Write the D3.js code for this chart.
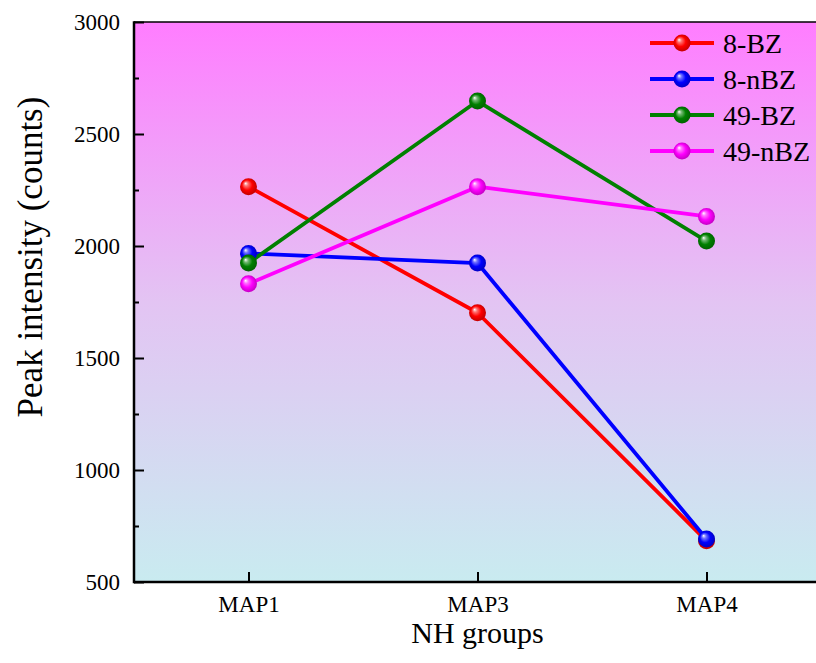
<!DOCTYPE html>
<html>
<head>
<meta charset="utf-8">
<script src="https://cdn.jsdelivr.net/npm/d3@7"></script>
<style>
  html, body { margin: 0; padding: 0; background: #fff; }
  svg { display: block; }
  svg text { font-family: "Liberation Serif", "Times New Roman", serif; }
</style>
</head>
<body>
<div id="chart"></div>
<script>
(function () {
  var categories = ['MAP1', 'MAP3', 'MAP4'];
  var seriesNames = ['8-BZ', '8-nBZ', '49-BZ', '49-nBZ'];
  var seriesColors = ['#ff0000', '#0000ff', '#008000', '#ff00ff'];
  var values8BZ = [2265, 1702, 684];
  var values8nBZ = [1967, 1924, 692];
  var values49BZ = [1924, 2647, 2022];
  var values49nBZ = [1831, 2265, 2132];
  var yTicks = [500, 1000, 1500, 2000, 2500, 3000];
  var yMinorTicks = [750, 1250, 1750, 2250, 2750];

  var seriesValues = [values8BZ, values8nBZ, values49BZ, values49nBZ];
  var serif = '"Liberation Serif", "Times New Roman", serif';

  var width = 816;
  var height = 663;
  var plot = { left: 134, right: 821, top: 22, bottom: 582 };

  var svg = d3.select('#chart')
    .append('svg')
    .attr('width', width)
    .attr('height', height)
    .attr('font-family', serif);

  var defs = svg.append('defs');

  var bg = defs.append('linearGradient')
    .attr('id', 'bg-grad')
    .attr('x1', 0).attr('y1', 0).attr('x2', 0).attr('y2', 1);
  bg.append('stop').attr('offset', '0%').attr('stop-color', '#ff7dff');
  bg.append('stop').attr('offset', '50%').attr('stop-color', '#e3c4f3');
  bg.append('stop').attr('offset', '100%').attr('stop-color', '#c9ebf0');

  // sphere look for the markers
  seriesColors.forEach(function (c, i) {
    var g = defs.append('radialGradient')
      .attr('id', 'ball-' + i)
      .attr('cx', '50%').attr('cy', '50%').attr('r', '55%')
      .attr('fx', '32%').attr('fy', '30%');
    g.append('stop').attr('offset', '0%').attr('stop-color', '#ffffff');
    g.append('stop').attr('offset', '22%').attr('stop-color', d3.interpolateRgb('#ffffff', c)(0.55));
    g.append('stop').attr('offset', '55%').attr('stop-color', c);
    g.append('stop').attr('offset', '100%').attr('stop-color', d3.color(c).darker(0.9));
  });

  var x = d3.scalePoint()
    .domain(categories)
    .range([plot.left, plot.right])
    .padding(0.5);

  var y = d3.scaleLinear()
    .domain([500, 3000])
    .range([plot.bottom, plot.top]);

  svg.append('rect')
    .attr('x', plot.left)
    .attr('y', plot.top)
    .attr('width', plot.right - plot.left)
    .attr('height', plot.bottom - plot.top)
    .attr('fill', 'url(#bg-grad)');

  // y axis, ticks pointing inward
  var yAxis = svg.append('g')
    .attr('transform', 'translate(' + plot.left + ',0)')
    .call(d3.axisLeft(y).tickValues(yTicks).tickFormat(d3.format('d'))
      .tickSize(-10).tickPadding(14).tickSizeOuter(0))
    .attr('font-family', serif)
    .attr('font-size', 23);
  yAxis.select('.domain').remove();
  yAxis.selectAll('line').attr('stroke', '#000').attr('stroke-width', 2);
  yAxis.selectAll('text')
    .attr('fill', '#000')
    .attr('dy', '0.34em');

  var yMinor = svg.append('g')
    .attr('transform', 'translate(' + plot.left + ',0)')
    .call(d3.axisLeft(y).tickValues(yMinorTicks).tickSize(-5).tickFormat(''));
  yMinor.select('.domain').remove();
  yMinor.selectAll('line').attr('stroke', '#000').attr('stroke-width', 2);

  // x axis
  var xAxis = svg.append('g')
    .attr('transform', 'translate(0,' + plot.bottom + ')')
    .call(d3.axisBottom(x).tickSize(-10).tickPadding(14).tickSizeOuter(0))
    .attr('font-family', serif)
    .attr('font-size', 23);
  xAxis.select('.domain').remove();
  xAxis.selectAll('line').attr('stroke', '#000').attr('stroke-width', 2);
  xAxis.selectAll('text').attr('fill', '#000');

  // frame: left, bottom, top
  svg.append('line')
    .attr('x1', plot.left).attr('x2', width)
    .attr('y1', plot.top).attr('y2', plot.top)
    .attr('stroke', '#000').attr('stroke-width', 1.5);
  svg.append('line')
    .attr('x1', plot.left).attr('x2', width)
    .attr('y1', plot.bottom).attr('y2', plot.bottom)
    .attr('stroke', '#000').attr('stroke-width', 2.5);
  svg.append('line')
    .attr('x1', plot.left).attr('x2', plot.left)
    .attr('y1', plot.top - 0.75).attr('y2', plot.bottom + 1.25)
    .attr('stroke', '#000').attr('stroke-width', 2.5);

  var line = d3.line()
    .x(function (d, i) { return x(categories[i]); })
    .y(function (d) { return y(d); });

  var layers = svg.append('g');
  seriesValues.forEach(function (vals, si) {
    layers.append('path')
      .attr('d', line(vals))
      .attr('fill', 'none')
      .attr('stroke', seriesColors[si])
      .attr('stroke-width', 3.8)
      .attr('stroke-linejoin', 'round');
  });
  seriesValues.forEach(function (vals, si) {
    layers.selectAll('.pt-' + si)
      .data(vals)
      .enter()
      .append('circle')
      .attr('class', 'pt-' + si)
      .attr('cx', function (d, i) { return x(categories[i]); })
      .attr('cy', function (d) { return y(d); })
      .attr('r', 8.5)
      .attr('fill', 'url(#ball-' + si + ')');
  });

  // legend
  var legend = svg.append('g').attr('transform', 'translate(650,43)');
  seriesNames.forEach(function (name, i) {
    var row = legend.append('g').attr('transform', 'translate(0,' + (i * 36) + ')');
    row.append('line')
      .attr('x1', 0).attr('x2', 64)
      .attr('y1', 0).attr('y2', 0)
      .attr('stroke', seriesColors[i])
      .attr('stroke-width', 3.8);
    row.append('circle')
      .attr('cx', 32).attr('cy', 0).attr('r', 8.5)
      .attr('fill', 'url(#ball-' + i + ')');
    row.append('text')
      .attr('x', 73)
      .attr('y', 0)
      .attr('dy', '0.34em')
      .attr('font-size', 28)
      .attr('fill', '#000')
      .text(name);
  });

  // axis titles
  svg.append('text')
    .attr('x', x('MAP3'))
    .attr('y', 643)
    .attr('text-anchor', 'middle')
    .attr('font-size', 30)
    .attr('fill', '#000')
    .text('NH groups');

  svg.append('text')
    .attr('transform', 'translate(42,257) rotate(-90)')
    .attr('text-anchor', 'middle')
    .attr('font-size', 35)
    .attr('fill', '#000')
    .text('Peak intensity (counts)');
})();
</script>
</body>
</html>
